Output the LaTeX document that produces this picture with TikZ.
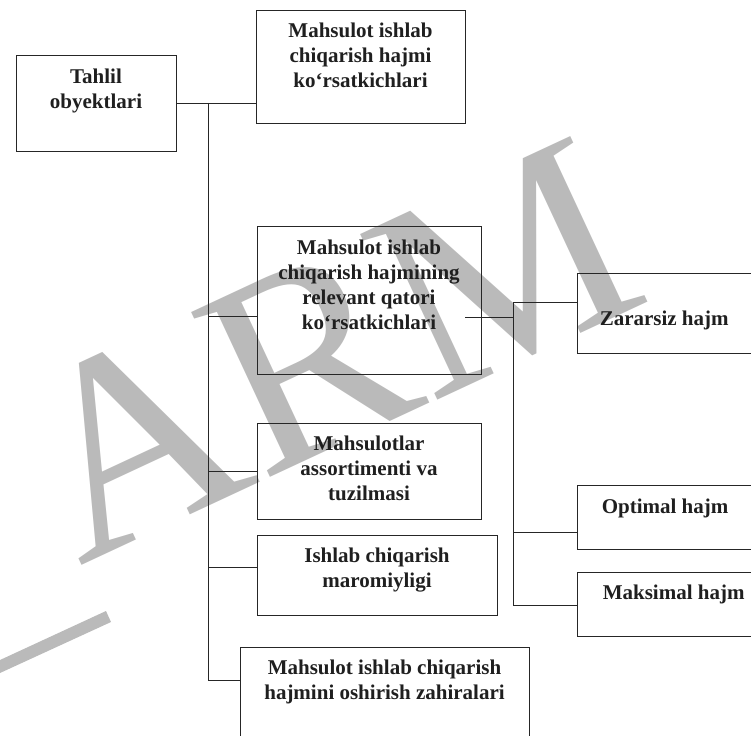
\documentclass[tikz,border=0pt]{standalone}
\usepackage{fontspec}
\setmainfont{Liberation Serif}
\usepackage{xcolor}
\tikzstyle{box} = [draw=black!85, line width=0.9pt, inner sep=0pt]
\tikzstyle{txt} = [font=\bfseries\fontsize{21}{25}\selectfont, text=black!88, align=center, inner sep=0pt]
\tikzstyle{link} = [draw=black!85, line width=0.9pt]
\tikzstyle{wmark} = [font=\fontsize{279}{279}\selectfont, text=black!27, inner sep=0pt]

\begin{document}
\begin{tikzpicture}[x=1pt, y=-1pt]
% Page
\useasboundingbox (0,0) rectangle (751,735);
\clip (0,0) rectangle (751,735);

% Watermark
\node[wmark, rotate=25, anchor=base west] (wm) at (79,567) {ARM};
\fill[black!27] (0,660) -- (106,611) -- (111,622) -- (0,673) -- cycle;

% Left boxes
\node[box, minimum width=160, minimum height=96,
  label={[txt, anchor=north, yshift=-14pt]north:Tahlil\\obyektlari}] (tahlil) at (96,103) {};
\node[box, minimum width=209, minimum height=113,
  label={[txt, anchor=north, yshift=-13pt]north:Mahsulot ishlab\\chiqarish hajmi\\ko‘rsatkichlari}] (hajm) at (360.5,66.5) {};
\node[box, minimum width=224, minimum height=148,
  label={[txt, anchor=north, yshift=-14pt]north:Mahsulot ishlab\\chiqarish hajmining\\relevant qatori\\ko‘rsatkichlari}] (relevant) at (369,300) {};
\node[box, minimum width=224, minimum height=96,
  label={[txt, anchor=north, yshift=-13pt]north:Mahsulotlar\\assortimenti va\\tuzilmasi}] (assort) at (369,471) {};
\node[box, minimum width=240, minimum height=80,
  label={[txt, anchor=north, yshift=-13pt]north:Ishlab chiqarish\\maromiyligi}] (marom) at (377,575) {};
\node[box, minimum width=289, minimum height=118,
  label={[txt, anchor=north, yshift=-13pt]north:Mahsulot ishlab chiqarish\\hajmini oshirish zahiralari}] (zahira) at (384.5,706) {};

% Right boxes
\node[box, minimum width=193, minimum height=80,
  label={[txt, anchor=north west, xshift=23pt, yshift=-38pt]north west:Zararsiz hajm}] (zararsiz) at (673.5,313) {};
\node[box, minimum width=193, minimum height=64,
  label={[txt, anchor=north west, xshift=25pt, yshift=-14pt]north west:Optimal hajm}] (optimal) at (673.5,517) {};
\node[box, minimum width=193, minimum height=64,
  label={[txt, anchor=north west, xshift=26pt, yshift=-13pt]north west:Maksimal hajm}] (maksimal) at (673.5,604) {};

% Left trunk
\coordinate (j0) at (208,103);
\coordinate (j1) at (208,316);
\coordinate (j2) at (208,471);
\coordinate (j3) at (208,567);
\coordinate (j4) at (208,680);
\draw[link] (tahlil.east) -- (tahlil.east -| hajm.west);
\draw[link] (j0) -- (j4);
\draw[link] (j1) -- (j1 -| relevant.west);
\draw[link] (j2) -- (j2 -| assort.west);
\draw[link] (j3) -- (j3 -| marom.west);
\draw[link] (j4) -- (j4 -| zahira.west);

% Right trunk
\coordinate (k0) at (513,302);
\coordinate (k1) at (513,317);
\coordinate (k2) at (513,532);
\coordinate (k3) at (513,605);
\coordinate (rs) at (465,317);
\draw[link] (k0) -- (k3);
\draw[link] (rs) -- (k1);
\draw[link] (k0) -- (k0 -| zararsiz.west);
\draw[link] (k2) -- (k2 -| optimal.west);
\draw[link] (k3) -- (k3 -| maksimal.west);
\end{tikzpicture}
\end{document}
